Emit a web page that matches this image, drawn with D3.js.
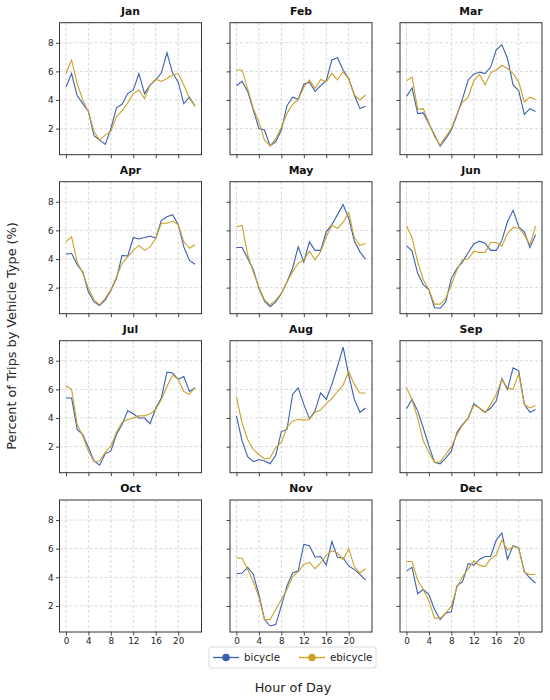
<!DOCTYPE html>
<html>
<head>
<meta charset="utf-8">
<script src="https://cdn.jsdelivr.net/npm/d3@7"></script>
<style>
  html, body { margin: 0; padding: 0; background: #fff; }
  svg { display: block; font-family: "DejaVu Sans", sans-serif; }
</style>
</head>
<body>
<svg id="chart" width="550" height="700"></svg>
<script>
const months = ["Jan","Feb","Mar","Apr","May","Jun","Jul","Aug","Sep","Oct","Nov","Dec"];
const hours = d3.range(24);
const xTicks = [0, 4, 8, 12, 16, 20];
const yTicks = [2, 4, 6, 8];
const seriesNames = ["bicycle", "ebicycle"];

const bicycle = [
  [4.9,5.85,4.3,3.75,3.2,1.5,1.2,0.9,2.0,3.45,3.7,4.45,4.7,5.85,4.45,5.05,5.4,5.9,7.3,5.9,5.25,3.75,4.2,3.57],
  [5.0,5.3,4.6,3.3,2.0,1.9,0.8,1.1,1.9,3.6,4.2,4.05,5.1,5.25,4.6,5.0,5.35,6.8,6.95,6.1,5.5,4.35,3.4,3.57],
  [4.25,4.85,3.05,3.1,2.35,1.55,0.77,1.3,1.9,2.95,4.1,5.4,5.8,5.95,5.85,6.3,7.5,7.85,6.9,5.05,4.65,3.0,3.4,3.2],
  [4.33,4.4,3.6,3.1,1.7,1.0,0.75,1.15,1.8,2.65,4.25,4.2,5.5,5.4,5.5,5.6,5.45,6.7,6.95,7.1,6.4,4.85,3.9,3.63],
  [4.8,4.8,4.05,3.25,1.95,1.05,0.67,1.0,1.6,2.4,3.35,4.85,3.8,5.2,4.6,4.6,5.9,6.4,7.1,7.8,6.85,5.25,4.5,3.98],
  [4.93,4.55,3.0,2.2,1.85,0.6,0.56,1.0,2.65,3.35,3.8,4.45,5.05,5.25,5.1,4.6,4.6,5.3,6.6,7.4,6.25,5.9,4.8,5.7],
  [5.4,5.4,3.2,2.85,1.95,1.0,0.7,1.5,1.7,2.85,3.55,4.5,4.3,4.0,4.0,3.6,4.7,5.4,7.2,7.15,6.7,6.9,5.85,6.1],
  [4.15,2.4,1.3,0.95,1.1,1.0,0.8,1.4,3.05,3.2,5.65,6.1,4.95,3.95,4.5,5.75,5.3,6.35,7.6,8.95,7.0,5.3,4.4,4.7],
  [4.65,5.3,4.5,3.3,2.05,0.9,0.8,1.2,1.7,3.0,3.55,4.0,5.0,4.7,4.4,4.7,5.2,6.75,6.0,7.5,7.3,4.95,4.4,4.6],
  null,
  [4.25,4.3,4.7,4.2,2.8,1.05,0.6,0.7,2.0,3.4,4.3,4.45,6.3,6.2,5.4,5.45,4.85,6.5,5.4,5.35,4.8,4.55,4.2,3.8],
  [4.45,4.7,2.85,3.15,2.8,1.75,1.05,1.5,1.6,3.4,3.7,4.95,4.85,5.25,5.45,5.45,6.6,7.1,5.25,6.2,6.05,4.4,3.95,3.6]
];

const ebicycle = [
  [5.85,6.8,5.15,4.0,3.17,1.8,1.2,1.55,1.8,2.83,3.25,3.8,4.45,4.7,4.1,5.05,5.45,5.3,5.5,5.75,5.85,5.05,4.1,3.57],
  [6.1,6.1,4.8,3.4,2.47,1.2,0.8,1.3,2.1,3.05,3.7,4.0,4.9,5.4,4.8,5.43,5.27,5.85,5.4,5.97,5.5,4.35,4.0,4.35],
  [5.35,5.6,3.35,3.4,2.4,1.43,0.85,1.43,2.0,3.05,3.86,4.2,5.34,5.8,5.05,5.9,6.1,6.43,6.2,5.85,5.27,3.86,4.2,4.03],
  [5.2,5.55,3.8,3.0,1.95,1.15,0.8,1.25,1.85,2.75,3.7,4.15,4.6,4.95,4.6,4.85,5.45,6.5,6.5,6.65,6.4,5.2,4.75,5.0],
  [6.25,6.35,4.3,3.1,2.05,1.15,0.8,1.15,1.6,2.4,3.1,3.7,3.95,4.55,3.95,4.5,5.55,6.35,6.15,6.55,7.25,5.5,4.95,5.1],
  [6.33,5.5,3.8,2.55,1.85,0.85,0.85,1.25,2.2,3.25,3.95,4.0,4.55,4.45,4.45,5.15,5.15,4.9,5.8,6.2,6.15,5.7,5.0,6.3],
  [6.25,6.0,3.55,2.75,1.7,0.95,1.0,1.6,2.05,3.0,3.7,3.9,4.0,4.15,4.15,4.3,4.6,5.3,6.2,7.0,6.7,5.85,5.65,6.15],
  [5.5,3.65,2.5,1.8,1.45,1.15,1.2,1.95,2.3,3.35,3.8,3.9,3.85,3.9,4.4,4.55,5.0,5.35,5.85,6.3,7.25,6.35,5.75,5.75],
  [6.15,5.25,4.0,2.4,1.6,0.9,0.95,1.45,2.0,2.85,3.5,3.95,4.9,4.7,4.35,4.95,5.65,6.7,6.1,6.0,7.1,4.95,4.7,4.85],
  null,
  [5.35,5.35,4.55,3.7,2.6,1.05,1.05,1.75,2.45,3.15,4.05,4.4,4.9,5.05,4.6,5.0,5.55,5.85,5.7,5.25,6.0,4.75,4.3,4.6],
  [5.1,5.1,3.8,3.15,2.35,1.15,1.15,1.5,2.0,3.3,4.05,4.6,5.15,4.85,4.75,5.3,5.55,6.6,5.9,6.15,6.05,4.35,4.2,4.2]
];

const colors = { bicycle: "#3d5fb0", ebicycle: "#c9a227" };

const svg = d3.select("#chart");

const panelW = 142, panelH = 132;
const colX = [59.5, 230, 400];
const rowY = [22.7, 181.7, 340.7, 500];

const x = d3.scaleLinear().domain([-1.15, 24.15]).range([0, panelW]);
const y = d3.scaleLinear().domain([0.18, 9.4]).range([panelH, 0]);

const line = d3.line().x((d, i) => x(hours[i])).y(d => y(d));

months.forEach((m, k) => {
  const r = Math.floor(k / 3), c = k % 3;
  const g = svg.append("g").attr("transform", `translate(${colX[c]},${rowY[r]})`);

  // grid
  g.append("g").selectAll("line.vg").data(xTicks).join("line")
    .attr("x1", d => x(d)).attr("x2", d => x(d)).attr("y1", 0).attr("y2", panelH)
    .attr("stroke", "#cfcfcf").attr("stroke-width", 0.8).attr("stroke-dasharray", "3,2");
  g.append("g").selectAll("line.hg").data(yTicks).join("line")
    .attr("x1", 0).attr("x2", panelW).attr("y1", d => y(d)).attr("y2", d => y(d))
    .attr("stroke", "#cfcfcf").attr("stroke-width", 0.8).attr("stroke-dasharray", "3,2");

  // axes
  const xAxis = d3.axisBottom(x).tickValues(xTicks).tickSize(3.5).tickPadding(2.5)
    .tickFormat(r === 3 ? d3.format("d") : () => "");
  const yAxis = d3.axisLeft(y).tickValues(yTicks).tickSize(3.5).tickPadding(2.5)
    .tickFormat(c === 0 ? d3.format("d") : () => "");

  const gx = g.append("g").attr("transform", `translate(0,${panelH})`).call(xAxis);
  const gy = g.append("g").call(yAxis);
  [gx, gy].forEach(a => {
    a.select(".domain").remove();
    a.selectAll(".tick line").attr("stroke", "#333").attr("stroke-width", 0.9);
    a.selectAll(".tick text").attr("fill", "#222").style("font-size", "8.8px")
      .style("font-family", "DejaVu Sans, sans-serif");
  });

  // series
  if (bicycle[k]) {
    g.append("path").datum(bicycle[k]).attr("d", line)
      .attr("fill", "none").attr("stroke", colors.bicycle).attr("stroke-width", 1.1);
  }
  if (ebicycle[k]) {
    g.append("path").datum(ebicycle[k]).attr("d", line)
      .attr("fill", "none").attr("stroke", colors.ebicycle).attr("stroke-width", 1.1);
  }

  // frame
  g.append("rect").attr("x", 0).attr("y", 0).attr("width", panelW).attr("height", panelH)
    .attr("fill", "none").attr("stroke", "#333").attr("stroke-width", 1);

  // title
  g.append("text").attr("x", panelW / 2).attr("y", -8)
    .attr("text-anchor", "middle").style("font-size", "10.8px").style("font-weight", "bold")
    .attr("fill", "#111").text(m);
});

// legend
const lg = svg.append("g").attr("transform", "translate(209,647)");
lg.append("rect").attr("x", 0).attr("y", 0).attr("width", 167).attr("height", 21)
  .attr("rx", 2.5).attr("fill", "#fff").attr("stroke", "#d0d0d0").attr("stroke-width", 0.8);
const legendX = [4, 90];
seriesNames.forEach((s, i) => {
  const it = lg.append("g").attr("transform", `translate(${legendX[i]},10.5)`);
  it.append("line").attr("x1", 0).attr("x2", 26).attr("y1", 0).attr("y2", 0)
    .attr("stroke", colors[s]).attr("stroke-width", 1.3);
  it.append("circle").attr("cx", 13).attr("cy", 0).attr("r", 3.8).attr("fill", colors[s]);
  it.append("text").attr("x", 31).attr("y", 3.6).style("font-size", "10.3px")
    .attr("fill", "#222").text(s);
});

// axis labels
svg.append("text").attr("x", 293).attr("y", 692).attr("text-anchor", "middle")
  .style("font-size", "12.8px").attr("fill", "#222").text("Hour of Day");
svg.append("text").attr("transform", "translate(16,336) rotate(-90)").attr("text-anchor", "middle")
  .style("font-size", "12.8px").attr("fill", "#222").text("Percent of Trips by Vehicle Type (%)");
</script>
</body>
</html>
